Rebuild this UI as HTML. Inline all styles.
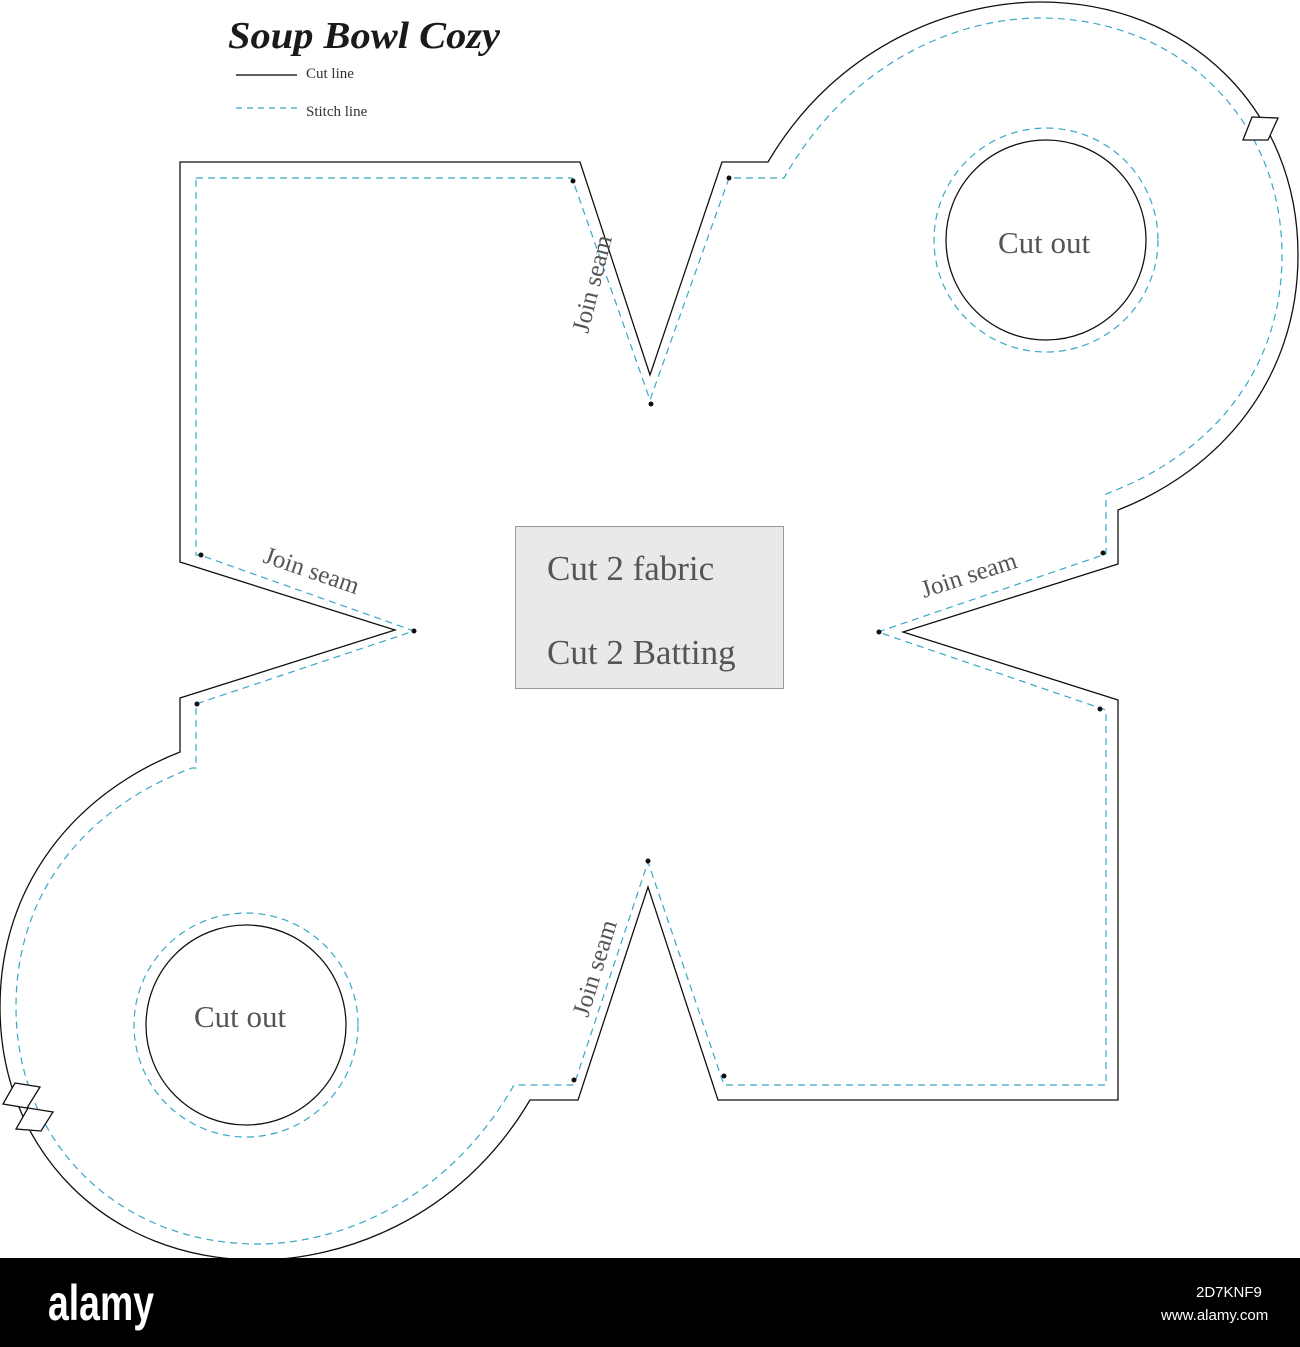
<!DOCTYPE html>
<html><head><meta charset="utf-8"><style>
html,body{margin:0;padding:0;background:#fff}
svg{display:block}
</style></head><body>
<svg width="1300" height="1347" viewBox="0 0 1300 1347" xmlns="http://www.w3.org/2000/svg">
<rect width="1300" height="1347" fill="#fff"/>
<text x="228" y="48" font-family="Liberation Serif, serif" font-style="italic" font-weight="bold" font-size="38" fill="#1a1a1a" textLength="272" lengthAdjust="spacingAndGlyphs">Soup Bowl Cozy</text>
<line x1="236" y1="75" x2="297" y2="75" stroke="#000" stroke-width="1.3"/>
<text x="306" y="78" font-family="Liberation Serif, serif" font-size="15" fill="#333">Cut line</text>
<line x1="236" y1="108" x2="297" y2="108" stroke="#3aa6c8" stroke-width="1.2" stroke-dasharray="6,5"/>
<text x="306" y="116" font-family="Liberation Serif, serif" font-size="15" fill="#333">Stitch line</text>

<path d="M180,162 L580,162 L650,375 L722,162 L768,162 C840,40 960,2 1040,2 C1190,2 1298,110 1298,255 C1298,380 1220,470 1118,510 L1118,564 L903,632 L1118,700 L1118,1100 L718,1100 L648,887 L578,1100 L530,1100 C458,1222 338,1260 258,1260 C108,1260 0,1152 0,1007 C0,882 78,792 180,752 L180,698 L395,630 L180,562 Z" fill="none" stroke="#111" stroke-width="1.3"/>
<path d="M196,178 L572,178 L650,400 L729,178 L784,178 C852,58 962,18 1040,18 C1180,18 1282,120 1282,255 C1282,372 1210,455 1106,494 L1106,554 L878,632 L1106,710 L1106,1085 L724,1085 L648,862 L574,1085 L514,1085 C446,1204 336,1244 258,1244 C118,1244 16,1142 16,1007 C16,890 88,807 192,768 L196,768 L196,704 L414,631 L200,555 L196,555 Z" fill="none" stroke="#3aa6c8" stroke-width="1.2" stroke-dasharray="7,5"/>

<circle cx="1046" cy="240" r="100" fill="none" stroke="#111" stroke-width="1.3"/>
<circle cx="1046" cy="240" r="112" fill="none" stroke="#3aa6c8" stroke-width="1.2" stroke-dasharray="7,5"/>
<circle cx="246" cy="1025" r="100" fill="none" stroke="#111" stroke-width="1.3"/>
<circle cx="246" cy="1025" r="112" fill="none" stroke="#3aa6c8" stroke-width="1.2" stroke-dasharray="7,5"/>

<polygon points="1252,117 1278,118 1268,140 1243,140" fill="#fff" stroke="#111" stroke-width="1.3"/>
<polygon points="15,1083 40,1087 27,1108 3,1104" fill="#fff" stroke="#111" stroke-width="1.3"/>
<polygon points="28,1108 53,1112 41,1131 16,1129" fill="#fff" stroke="#111" stroke-width="1.3"/>

<g fill="#111">
<circle cx="573" cy="181" r="2.5"/><circle cx="651" cy="404" r="2.5"/><circle cx="729" cy="178" r="2.5"/>
<circle cx="1103" cy="553" r="2.5"/><circle cx="879" cy="632" r="2.5"/><circle cx="1100" cy="709" r="2.5"/>
<circle cx="648" cy="861" r="2.5"/><circle cx="724" cy="1076" r="2.5"/><circle cx="574" cy="1080" r="2.5"/>
<circle cx="197" cy="704" r="2.5"/><circle cx="414" cy="631" r="2.5"/><circle cx="201" cy="555" r="2.5"/>
</g>

<g font-family="Liberation Serif, serif" font-size="25" fill="#555">
<text transform="translate(588,334) rotate(-76)">Join seam</text>
<text transform="translate(588,1018) rotate(-73)">Join seam</text>
<text transform="translate(262,562) rotate(19)">Join seam</text>
<text transform="translate(924,598) rotate(-18)">Join seam</text>
</g>
<text x="998" y="253" font-family="Liberation Serif, serif" font-size="31" fill="#555">Cut out</text>
<text x="194" y="1027" font-family="Liberation Serif, serif" font-size="31" fill="#555">Cut out</text>

<rect x="515.5" y="526.5" width="268" height="162" fill="#e9e9ea" stroke="#999" stroke-width="1"/>
<text x="547" y="580" font-family="Liberation Serif, serif" font-size="35" fill="#555">Cut 2 fabric</text>
<text x="547" y="664" font-family="Liberation Serif, serif" font-size="35" fill="#555">Cut 2 Batting</text>

<rect x="0" y="1258" width="1300" height="89" fill="#000"/>
<text x="48" y="1320" font-family="Liberation Sans, sans-serif" font-weight="bold" font-size="50" fill="#fff" textLength="106" lengthAdjust="spacingAndGlyphs">alamy</text>
<text x="1196" y="1297" font-family="Liberation Sans, sans-serif" font-size="15" fill="#fff">2D7KNF9</text>
<text x="1161" y="1320" font-family="Liberation Sans, sans-serif" font-size="15" fill="#fff">www.alamy.com</text>
</svg>
</body></html>
